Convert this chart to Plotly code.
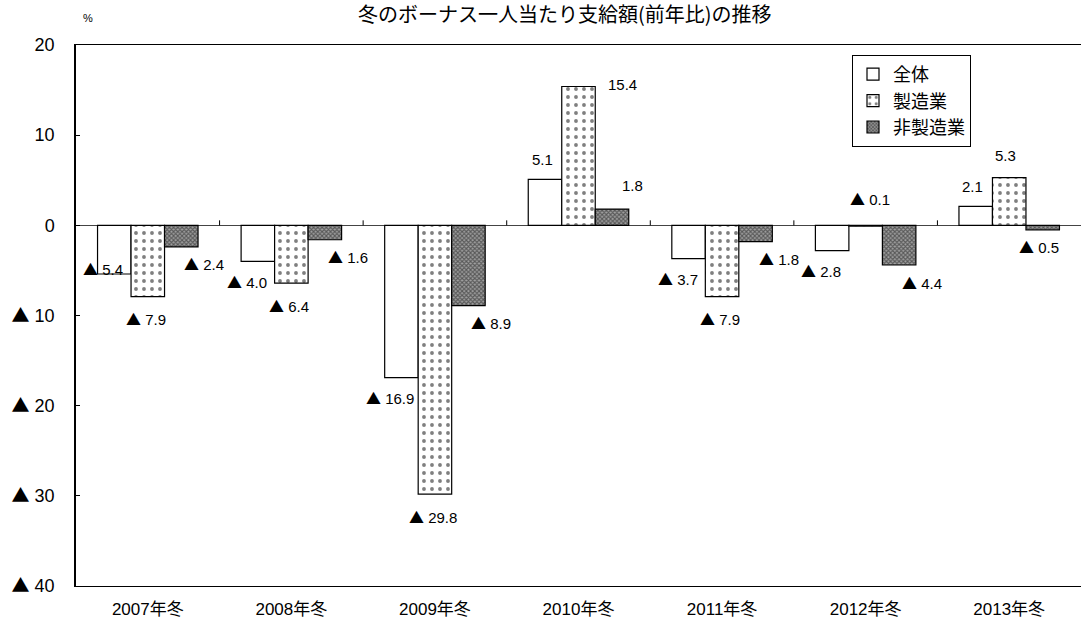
import plotly.graph_objects as go

# ---- data ----
categories = ["2007年冬", "2008年冬", "2009年冬", "2010年冬", "2011年冬", "2012年冬", "2013年冬"]
series_names = ["全体", "製造業", "非製造業"]
total = [-5.4, -4.0, -16.9, 5.1, -3.7, -2.8, 2.1]
manufacturing = [-7.9, -6.4, -29.8, 15.4, -7.9, -0.1, 5.3]
non_manufacturing = [-2.4, -1.6, -8.9, 1.8, -1.8, -4.4, -0.5]
y_tickvals = [20, 10, 0, -10, -20, -30, -40]
y_ticklabels = ["20", "10", "0", "▲ 10", "▲ 20", "▲ 30", "▲ 40"]
title_text = "冬のボーナス一人当たり支給額(前年比)の推移"

FONT = "Liberation Sans, Arial, Noto Sans CJK JP, sans-serif"
JP = "Noto Sans CJK JP"
TRI = "<span style='font-family:Noto Sans CJK JP'>▲</span>"
W, H = 1081, 624
ML, MR, MT, MB = 76, 0, 45, 38
plot_w = W - ML - MR
plot_h = H - MT - MB
cat_w = plot_w / len(categories)
BARGAP = 0.3
bar_w = cat_w * (1 - BARGAP) / 3

styles = [
    dict(color="white", pattern=dict(shape="")),
    dict(color="white", pattern=dict(shape=".", size=8, solidity=0.18, fgcolor="black", bgcolor="white")),
    dict(color="#999999", pattern=dict(shape="x", size=3, solidity=0.6, fgcolor="#111111", bgcolor="#a0a0a0")),
]

fig = go.Figure()
all_series = [total, manufacturing, non_manufacturing]
for name, vals, st in zip(series_names, all_series, styles):
    fig.add_trace(go.Bar(
        x=categories, y=vals, name=name,
        marker=dict(color=st["color"], pattern=st["pattern"], line=dict(color="black", width=1.2)),
        legendgroup=name,
    ))


def fmt(v):
    return (TRI + " %.1f" % abs(v)) if v < 0 else ("%.1f" % v)


annotations = []
for si, vals in enumerate(all_series):
    bar_dx = (si - 1) * bar_w
    for ci, (cat, v) in enumerate(zip(categories, vals)):
        if si == 0:
            dx, dy = (-11, -20) if v < 0 else (-3, 20)
            if ci == 0:
                dy = 6
        elif si == 1:
            if v > 10:
                dx, dy = (44, 2)
            elif v >= 0 or abs(v) < 0.3:
                dx, dy = (-4, 22) if v >= 0 else (4, 28)
            else:
                dx, dy = (-2, -22)
        else:
            if v < 0:
                dx, dy = (23, -17)
                if ci == len(categories) - 1:
                    dx = -4
            else:
                dx, dy = (20, 24)
        annotations.append(dict(
            x=cat, y=v, xref="x", yref="y", text=fmt(v), showarrow=False,
            xshift=bar_dx + dx, yshift=dy, font=dict(size=15, color="black", family=FONT),
        ))

annotations.append(dict(
    x=(565 - ML) / plot_w, y=1 + (MT - 14) / plot_h, xref="paper", yref="paper",
    text=title_text, showarrow=False, xanchor="center", yanchor="middle",
    font=dict(size=20, color="black", family=JP),
))
annotations.append(dict(
    x=(88 - ML) / plot_w, y=1 + (MT - 18) / plot_h, xref="paper", yref="paper",
    text="%", showarrow=False, xanchor="center", yanchor="middle",
    font=dict(size=11, color="black", family=FONT),
))

shapes = [dict(type="line", xref="x", yref="y", xsizemode="scaled", ysizemode="pixel",
               yanchor=0, x0=i + 0.5, x1=i + 0.5, y0=0, y1=5,
               line=dict(color="black", width=1)) for i in range(len(categories) - 1)]

y_ticktext = [t.replace("▲", TRI) for t in y_ticklabels]

fig.update_layout(
    width=W, height=H,
    margin=dict(l=ML, r=MR, t=MT, b=MB),
    paper_bgcolor="white", plot_bgcolor="white",
    barmode="group", bargap=BARGAP, bargroupgap=0,
    font=dict(family=FONT, color="black"),
    showlegend=True,
    legend=dict(
        x=(852 - ML) / plot_w, y=1 - (55 - MT) / plot_h, xanchor="left", yanchor="top",
        bgcolor="white", bordercolor="black", borderwidth=1,
        font=dict(size=18, family=JP, color="black"),
        tracegroupgap=9, traceorder="normal", itemwidth=30,
    ),
    xaxis=dict(
        showline=True, linecolor="black", linewidth=1, mirror=True,
        showgrid=False, ticks="", tickfont=dict(size=17, family=FONT),
        ticklabelstandoff=8,
    ),
    yaxis=dict(
        range=[-40, 20], tickvals=y_tickvals, ticktext=y_ticktext,
        showline=True, linecolor="black", linewidth=1.5,
        showgrid=False, zeroline=True, zerolinecolor="#444444", zerolinewidth=1,
        ticks="inside", ticklen=4, tickcolor="black",
        tickfont=dict(size=18, family=FONT), ticklabelstandoff=16,
    ),
    annotations=annotations,
    shapes=shapes,
)

fig.write_html("out.html", config={"displayModeBar": False},
               post_script="document.body.style.margin='0';")
